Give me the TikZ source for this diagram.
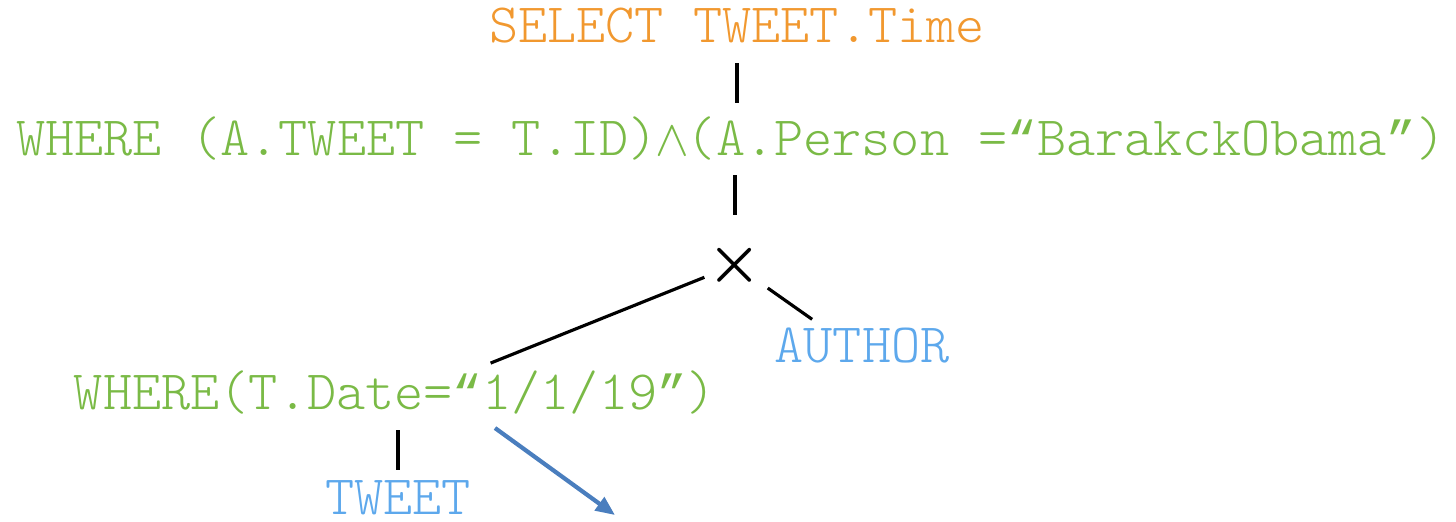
\documentclass[tikz,border=0pt]{standalone}
\usepackage{fontspec}
\setmonofont{Latin Modern Mono Light}
\newfontfamily\quotefont{Liberation Mono}
\newcommand{\openq}{{\quotefont\fontsize{14}{16}\selectfont “}}
\newcommand{\closeq}{{\quotefont\fontsize{14}{16}\selectfont ”}}
\newcommand{\andsym}{\makebox[0.525em]{$\wedge$}}
\usepackage{xcolor}
\usepackage{tikz}
\usetikzlibrary{arrows.meta, positioning, calc}

\definecolor{selorange}{RGB}{241,152,47}
\definecolor{condgreen}{RGB}{122,186,70}
\definecolor{relblue}{RGB}{93,168,236}
\definecolor{arrblue}{RGB}{74,126,190}

\begin{document}
\begin{tikzpicture}[%
  every node/.style={inner sep=0pt, font=\ttfamily\fontsize{15.8}{18}\selectfont},
  sel/.style={text=selorange, anchor=base},
  cond/.style={text=condgreen, anchor=base},
  rel/.style={text=relblue, anchor=base},
  edge/.style={draw=black, line width=0.9pt},
  arr/.style={-{Triangle[length=5.5pt, width=4.5pt]}, draw=arrblue, line width=1.2pt}
]
\useasboundingbox (0,0) rectangle (14.56,-5.21);

% Projection
\node[sel] (select) at (7.37,-0.42) {SELECT TWEET.Time};

% Join condition
\node[cond] (where1) at (7.31,-1.55) {WHERE (A.TWEET = T.ID)\andsym(A.Person =\openq BarakckObama\closeq)};
\draw[edge, shorten <=0.21cm, shorten >=0.52cm] (select.base) -- (select.base |- where1.base);

% Cross product
\node[font=\fontsize{18}{18}\selectfont\boldmath] (join) at (7.35,-2.65) {$\times$};
\draw[edge, shorten <=0.20cm, shorten >=0.50cm] (join.center |- where1.base) -- (join.center);

% Relations
\node[rel] (author) at (8.62,-3.62) {AUTHOR};
\node[cond] (where2) at (3.95,-4.09) {WHERE(T.Date=\openq 1/1/19\closeq)};
\node[rel] (tweet) at (3.98,-5.14) {TWEET};

\draw[edge, shorten <=0.33cm, shorten >=1.03cm] (join.center) -- (where2.mid);
\draw[edge, shorten <=0.40cm, shorten >=0.61cm] (join.center) -- (author.mid);
\draw[edge, shorten <=0.21cm, shorten >=0.44cm] (tweet.base |- where2.base) -- (tweet.base);

% Pointer
\coordinate (datept) at ($(where2.base)+(1.00,-0.19)$);
\coordinate (arrtip) at ($(where2.base)+(2.20,-1.06)$);
\draw[arr] (datept) -- (arrtip);
\end{tikzpicture}
\end{document}
